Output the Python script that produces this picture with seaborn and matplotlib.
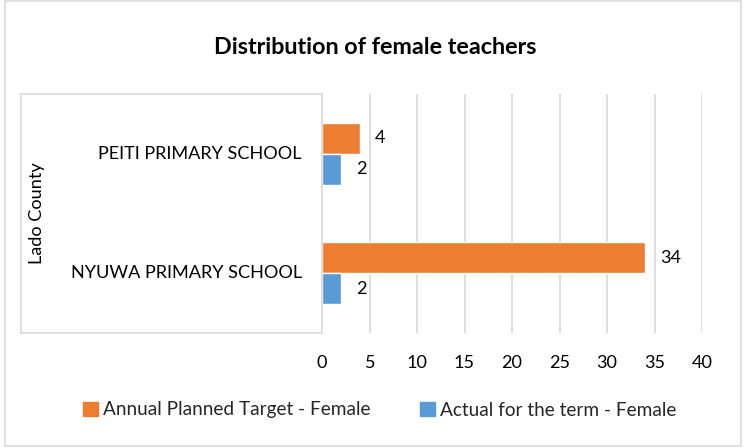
import matplotlib
matplotlib.use("Agg")
import matplotlib.pyplot as plt
import seaborn as sns
import pandas as pd
from matplotlib.lines import Line2D
from matplotlib.patches import Rectangle

# Data
schools = ["PEITI PRIMARY SCHOOL", "NYUWA PRIMARY SCHOOL"]
series = ["Annual Planned Target - Female", "Actual for the term - Female"]
planned = [4, 34]
actual = [2, 2]
group_label = "Lado County"
x_ticks = [0, 5, 10, 15, 20, 25, 30, 35, 40]

colors = {series[0]: "#ED7D31", series[1]: "#5B9BD5"}
grid_col = "#D9D9D9"
text_col = "#000000"
fs = 13.1

df = pd.DataFrame({
    "school": schools * 2,
    "series": [series[0]] * len(schools) + [series[1]] * len(schools),
    "value": planned + actual,
})

sns.set_theme(style="white")
plt.rcParams["font.family"] = ["Lato", "DejaVu Sans"]

W, H = 746, 448
fig = plt.figure(figsize=(W / 100, H / 100), dpi=100)
# plot area in pixel coords: x 322..702, y 94..333
ax = fig.add_axes([322 / W, 1 - 333 / H, 380 / W, 239 / H])

sns.barplot(data=df, y="school", x="value", hue="series", order=schools,
            hue_order=series, palette=colors, orient="h", width=0.52,
            saturation=1, ax=ax, legend=False)

for c in ax.containers:
    ax.bar_label(c, padding=11, fontsize=fs, color=text_col)

ax.set_xlim(0, 40)
ax.set_ylim(1.5, -0.5)
ax.set_xticks(x_ticks)
ax.set_xticklabels([str(t) for t in x_ticks], fontsize=fs, color=text_col)
ax.tick_params(axis="x", length=0, pad=16)
ax.set_yticks([])
ax.set_xlabel("")
ax.set_ylabel("")
for t in x_ticks[1:]:
    ax.axvline(t, color=grid_col, lw=1.2, zorder=0)
for s in ["top", "right", "bottom"]:
    ax.spines[s].set_visible(False)
ax.spines["left"].set_color(grid_col)
ax.spines["left"].set_linewidth(1.2)

# category labels on the figure
for i, name in enumerate(schools):
    yc = ax.transData.transform((0, i))[1]
    fig.text(302 / W, yc / H, name, ha="right", va="center",
             fontsize=fs, color=text_col)
fig.text(37 / W, 1 - 213 / H, group_label, rotation=90, ha="center",
         va="center", fontsize=fs, color=text_col)

# multi-level category box
x0, x1 = 21 / W, 322 / W
yt, yb = 1 - 94 / H, 1 - 333 / H
for xs, ys in [([x0, x1], [yt, yt]), ([x0, x1], [yb, yb]), ([x0, x0], [yb, yt])]:
    fig.add_artist(Line2D(xs, ys, color=grid_col, lw=1.2))

# outer chart border
fig.add_artist(Rectangle((5 / W, 2 / H), 736 / W, 445 / H, fill=False,
                         edgecolor=grid_col, lw=1.2))

fig.text(375 / W, 1 - 47 / H, "Distribution of female teachers", ha="center",
         va="center", fontsize=16.8, fontweight="bold", color=text_col)

handles = [Rectangle((0, 0), 1, 1, color=colors[s]) for s in series]
fig.legend(handles, series, loc="center", bbox_to_anchor=(380 / W, 1 - 410 / H),
           ncol=2, frameon=False, fontsize=13.7, handlelength=0.75,
           handleheight=0.75, handletextpad=0.3, columnspacing=2.6)

fig.savefig("out.png", dpi=100, facecolor="white")
